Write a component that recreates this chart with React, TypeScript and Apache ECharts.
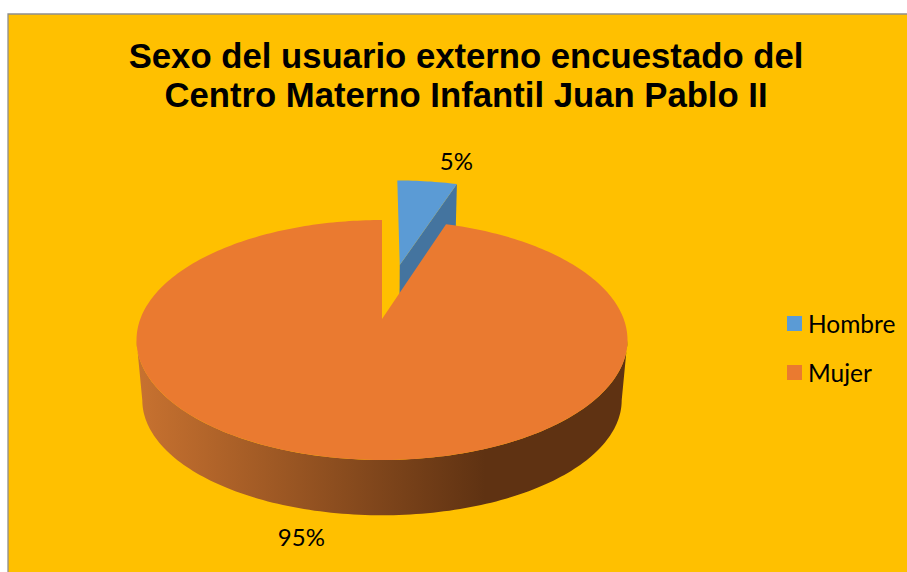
import React, { useEffect, useRef } from "react";
import * as echarts from "echarts";

const categories = ["Hombre", "Mujer"];
const shares = [5, 95];
const colors = ["#5B9BD5", "#EA7A30"];
const cutColors = ["#44749F", "#5F3212"];
const titleLines = [
  "Sexo del usuario externo encuestado del",
  "Centro Materno Infantil Juan Pablo II",
];

const BG = "#FFC000";
const FONT = "Lato, 'Open Sans', sans-serif";

// Perspective model of the tilted disc
const PIE = {
  cx: 382,
  topY: 319,
  bottomY: 380,
  topRx: 241.7,
  topRy: 116.3,
  botRx: 236,
  botRy: 111.6,
  k: 0.175,
};
const EXPLODE = [0.511, 0];
const LABEL_OFFSET = [
  [29, -21],
  [-36, 23],
];

type Pt = [number, number];
const project = (u: number, v: number, bottom: boolean): Pt => {
  const d = 1 + PIE.k * v;
  const rx = bottom ? PIE.botRx : PIE.topRx;
  const ry = bottom ? PIE.botRy : PIE.topRy;
  const y0 = bottom ? PIE.bottomY : PIE.topY;
  return [PIE.cx + (rx * u) / d, y0 - (ry * v) / d];
};

const arcPts = (a0: number, a1: number, ou: number, ov: number, bottom: boolean): Pt[] => {
  const n = Math.max(2, Math.ceil(Math.abs(a1 - a0) / 0.02));
  const out: Pt[] = [];
  for (let i = 0; i <= n; i++) {
    const a = a0 + ((a1 - a0) * i) / n;
    out.push(project(ou + Math.sin(a), ov + Math.cos(a), bottom));
  }
  return out;
};

const total = shares.reduce((s, x) => s + x, 0);

const sliceRenderer = (index: number) => (_params: any, api: any) => {
  const value = api.value(0) as number;
  const before = shares.slice(0, index).reduce((s, x) => s + x, 0);
  const a0 = (before / total) * Math.PI * 2;
  const a1 = ((before + value) / total) * Math.PI * 2;
  const mid = (a0 + a1) / 2;
  const ou = EXPLODE[index] * Math.sin(mid);
  const ov = EXPLODE[index] * Math.cos(mid);
  const apexTop = project(ou, ov, false);
  const apexBot = project(ou, ov, true);
  const children: any[] = [];

  // Cut face on the trailing edge of the raised slice
  if (a1 - a0 < Math.PI) {
    const rimTop = project(ou + Math.sin(a1), ov + Math.cos(a1), false);
    const rimBot = project(ou + Math.sin(a1), ov + Math.cos(a1), true);
    children.push({
      type: "polygon",
      shape: { points: [apexTop, rimTop, rimBot, apexBot] },
      style: { fill: cutColors[index] },
    });
  } else {
    // Outer wall along the front of the disc
    const start = Math.PI / 2 + Math.asin(PIE.k);
    const end = (Math.PI * 3) / 2 - Math.asin(PIE.k);
    const topArc = arcPts(start, end, ou, ov, false);
    const botArc = arcPts(start, end, ou, ov, true).reverse();
    children.push({
      type: "polygon",
      shape: { points: [...topArc, ...botArc] },
      style: {
        fill: new echarts.graphic.LinearGradient(1, 0, 0, 0, [
          { offset: 0, color: "#5F3212" },
          { offset: 0.29, color: "#5F3212" },
          { offset: 1, color: "#C87230" },
        ]),
      },
    });
  }

  // Top face
  children.push({
    type: "polygon",
    shape: { points: [apexTop, ...arcPts(a0, a1, ou, ov, false)] },
    style: { fill: colors[index] },
  });

  // Percentage label
  const rimBottom = mid > Math.PI / 2 && mid < (Math.PI * 3) / 2;
  const anchor = project(ou + Math.sin(mid), ov + Math.cos(mid), rimBottom);
  children.push({
    type: "text",
    style: {
      x: anchor[0] + LABEL_OFFSET[index][0],
      y: anchor[1] + LABEL_OFFSET[index][1],
      text: `${value}%`,
      font: `24px ${FONT}`,
      fill: "#000",
      align: "center",
      verticalAlign: "middle",
    },
  });
  return { type: "group", children };
};

export default function App() {
  const ref = useRef<HTMLDivElement>(null);
  useEffect(() => {
    document.body.style.margin = "0";
    const chart = echarts.init(ref.current!, undefined, { renderer: "svg" });
    chart.setOption({
      animation: false,
      backgroundColor: "#FFFFFF",
      title: {
        text: titleLines.join("\n"),
        left: 461,
        top: 31,
        textAlign: "center",
        textStyle: {
          fontFamily: "'Liberation Sans', Arial, sans-serif",
          fontWeight: "bold",
          fontSize: 34.7,
          lineHeight: 39,
          color: "#000",
        },
      },
      legend: {
        orient: "vertical",
        left: 787,
        top: 311,
        padding: 0,
        icon: "rect",
        itemWidth: 15,
        itemHeight: 15,
        itemGap: 24,
        data: categories,
        textStyle: { fontFamily: FONT, fontSize: 24.5, color: "#000", padding: [0, 0, 0, 1] },
      },
      graphic: [
        {
          type: "rect",
          z: -10,
          silent: true,
          shape: { x: 8, y: 14, width: 900, height: 560 },
          style: { fill: BG, stroke: "#8E8E8E", lineWidth: 1.3 },
        },
      ],
      series: categories.map((name, i) => ({
        type: "custom",
        name,
        coordinateSystem: "none",
        silent: true,
        itemStyle: { color: colors[i] },
        data: [[shares[i]]],
        renderItem: sliceRenderer(i),
      })),
    });
    return () => chart.dispose();
  }, []);
  return <div ref={ref} style={{ width: 907, height: 572 }} />;
}
